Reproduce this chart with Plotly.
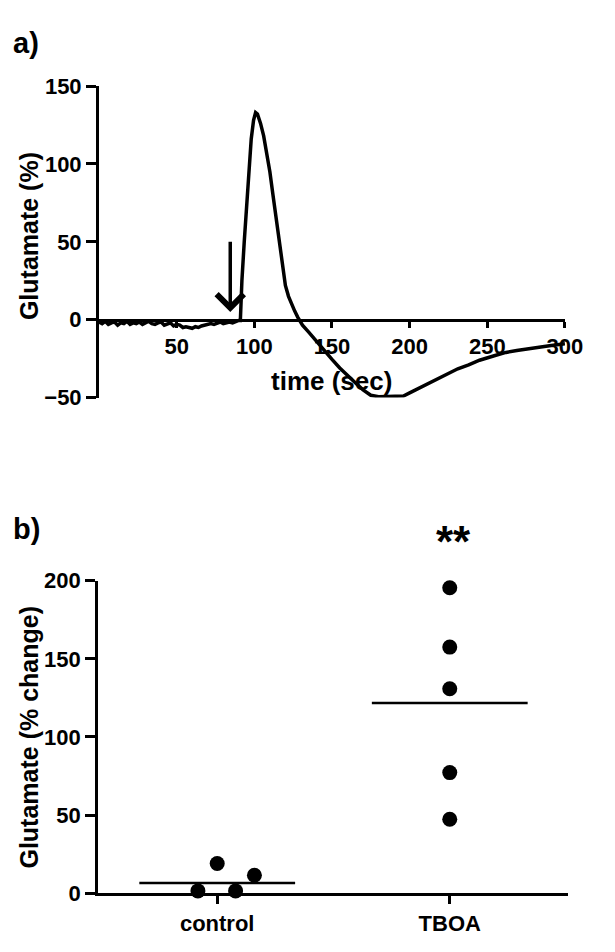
import plotly.graph_objects as go
import numpy as np

# ---------------- data: panel a (time course) ----------------
time_sec = [0, 2, 4, 6, 8, 10, 12, 14, 16, 18, 20, 22, 24, 26, 28, 30, 32, 34, 36, 38,
            40, 42, 44, 46, 48, 50, 52, 54, 56, 58, 60, 62, 64, 66, 68, 70, 72, 74, 76, 78,
            80, 82, 84, 86, 88, 90,
            91, 91.3, 92, 93.5, 95, 96.7, 98, 99.5, 100.8, 102, 104, 106, 108, 110, 112, 114,
            116, 118, 120, 122, 124, 126, 128, 131, 135, 140, 145, 150, 155, 160, 165, 170,
            175, 180, 185, 190, 196, 200, 205, 210, 217, 225, 231, 238, 245, 255, 262, 269,
            280, 290, 300]
glutamate_pct = [-1.5, -2.5, -1.0, -3.0, -2.0, -1.5, -3.5, -2.0, -2.5, -1.0, -3.0, -2.0, -2.5,
                 -1.5, -3.0, -2.0, -1.0, -2.5, -3.0, -2.0, -1.5, -3.5, -2.5, -2.0, -4.0, -3.0,
                 -3.5, -5.0, -4.5, -5.0, -5.5, -4.5, -5.0, -4.0, -3.5, -3.0, -2.5, -3.0, -2.0,
                 -1.5, -2.5, -2.0, -1.5, -2.0, -1.0, -0.5,
                 -0.5, 11, 25, 50, 75, 100, 116, 128, 133, 132, 126, 118, 107, 95, 80, 65,
                 50, 35, 22, 15, 10, 5.5, 1.5, -3.5, -8, -14, -20, -25.5, -31, -36, -40.5, -45,
                 -48.5, -49.5, -49.5, -49.5, -49, -47, -44.5, -42, -38.5, -34.5, -31.5, -29, -26, -23, -21, -19.8,
                 -18, -16.7, -15.5]
arrow_time = 84.5
arrow_from, arrow_to = 51, 5

xa_ticks = [50, 100, 150, 200, 250, 300]
ya_ticks = [-50, 0, 50, 100, 150]

# ---------------- data: panel b (scatter) ----------------
groups = ["control", "TBOA"]
control_vals = [1.5, -1.0, 1.5, 19.0, 11.5]
control_jitter = [-0.083, 0.0, 0.079, 0.0, 0.16]
tboa_vals = [195.5, 157.5, 130.8, 77.2, 47.3]
tboa_jitter = [0, 0, 0, 0, 0]
yb_ticks = [0, 50, 100, 150, 200]

W, H = 615, 952
FONT = "Liberation Sans, Arial, sans-serif"
BOLD = dict(family=FONT, color="black", weight="bold")


def px_x(p):
    return p / W


def px_y(p):
    return 1 - p / H


fig = go.Figure()

# panel a curve
fig.add_trace(go.Scatter(x=time_sec, y=glutamate_pct, mode="lines",
                         line=dict(color="black", width=3.5), xaxis="x", yaxis="y",
                         showlegend=False, hoverinfo="skip"))

# panel b points
fig.add_trace(go.Scatter(x=[0 + j for j in control_jitter], y=control_vals, mode="markers",
                         marker=dict(color="black", size=15), xaxis="x2", yaxis="y2",
                         showlegend=False, cliponaxis=False))
fig.add_trace(go.Scatter(x=[1 + j for j in tboa_jitter], y=tboa_vals, mode="markers",
                         marker=dict(color="black", size=15), xaxis="x2", yaxis="y2",
                         showlegend=False, cliponaxis=False))
# mean lines
for i, vals in enumerate([control_vals, tboa_vals]):
    m = float(np.mean(vals))
    fig.add_trace(go.Scatter(x=[i - 0.335, i + 0.335], y=[m, m], mode="lines",
                             line=dict(color="black", width=2.5), xaxis="x2", yaxis="y2",
                             showlegend=False, hoverinfo="skip"))

ya_dom = [px_y(396), px_y(76)]
y0_pos = ya_dom[0] + (0 - (-50)) / 200 * (ya_dom[1] - ya_dom[0])

fig.update_layout(
    width=W, height=H,
    margin=dict(l=0, r=0, t=0, b=0),
    paper_bgcolor="white", plot_bgcolor="white",
    showlegend=False,
    xaxis=dict(domain=[px_x(102), px_x(582)], range=[0, 300], anchor="free", position=y0_pos,
               showline=True, linecolor="black", linewidth=3, showgrid=False, zeroline=False,
               tickmode="array", tickvals=xa_ticks, ticks="outside", ticklen=6, tickwidth=3,
               tickcolor="black", tickfont=dict(size=22, **BOLD)),
    yaxis=dict(domain=ya_dom, range=[-50, 150], anchor="x",
               showline=True, linecolor="black", linewidth=3, showgrid=False, zeroline=False,
               tickmode="array", tickvals=ya_ticks, ticks="outside", ticklen=10, tickwidth=3,
               tickcolor="black", tickfont=dict(size=22, **BOLD)),
    xaxis2=dict(domain=[px_x(101), px_x(585)], range=[-0.5125, 1.508], anchor="y2",
                showline=True, linecolor="black", linewidth=3, showgrid=False, zeroline=False,
                tickmode="array", tickvals=[0, 1], ticktext=groups, ticks="outside", ticklen=8,
                tickwidth=3, tickcolor="black", tickfont=dict(size=22, **BOLD)),
    yaxis2=dict(domain=[px_y(905), px_y(584)], range=[0, 200], anchor="x2",
                showline=True, linecolor="black", linewidth=3, showgrid=False, zeroline=False,
                tickmode="array", tickvals=yb_ticks, ticks="outside", ticklen=10, tickwidth=3,
                tickcolor="black", tickfont=dict(size=22, **BOLD)),
)

annotations = [
    dict(text="a)", x=px_x(11), y=px_y(32), xref="paper", yref="paper", xanchor="left",
         yanchor="middle", showarrow=False, font=dict(size=29, **BOLD)),
    dict(text="b)", x=px_x(11), y=px_y(531), xref="paper", yref="paper", xanchor="left",
         yanchor="middle", showarrow=False, font=dict(size=29, **BOLD)),
    dict(text="Glutamate (%)", x=px_x(30), y=px_y(230), xref="paper", yref="paper",
         textangle=-90, xanchor="center", yanchor="middle", showarrow=False,
         font=dict(size=25, **BOLD)),
    dict(text="time (sec)", x=px_x(341), y=px_y(379), xref="paper", yref="paper",
         xanchor="center", yanchor="middle", showarrow=False, font=dict(size=26, **BOLD)),
    dict(text="Glutamate (% change)", x=px_x(30), y=px_y(745), xref="paper", yref="paper",
         textangle=-90, xanchor="center", yanchor="middle", showarrow=False,
         font=dict(size=25, **BOLD)),
    dict(text="**", x=px_x(467), y=px_y(544), xref="paper", yref="paper", xanchor="center",
         yanchor="middle", showarrow=False, font=dict(size=44, **BOLD)),
    dict(text="", x=arrow_time, y=arrow_to, ax=arrow_time, ay=arrow_from, xref="x", yref="y",
         axref="x", ayref="y", showarrow=True, arrowhead=4, arrowsize=1.5, arrowwidth=3.5,
         arrowcolor="black"),
]
fig.update_layout(annotations=annotations)

fig.write_html("out.html", config={"displayModeBar": False},
               post_script="document.body.style.margin='0px';document.body.style.overflow='hidden';")
